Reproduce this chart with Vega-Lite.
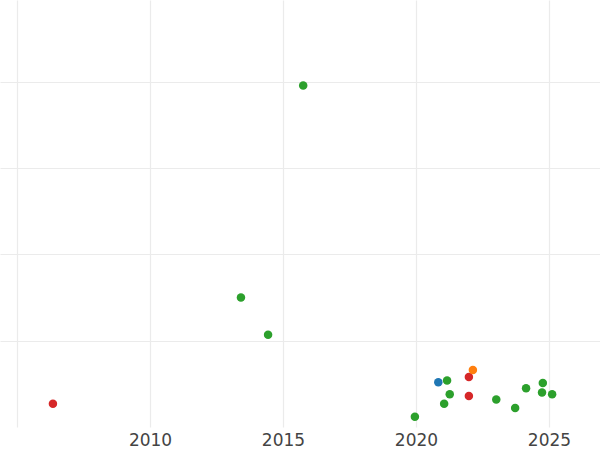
{
  "$schema": "https://vega.github.io/schema/vega-lite/v6.json",
  "width": 600,
  "height": 427,
  "autosize": {"type": "none"},
  "padding": {"left": 0, "top": 0, "right": 0, "bottom": 23},
  "background": "white",
  "config": {"view": {"stroke": null}},
  "data": {"values": [
    {"year": 2006.35, "value": 0.27, "group": "D1"},
    {"year": 2015.76, "value": 3.96, "group": "A"},
    {"year": 2013.42, "value": 1.50, "group": "A"},
    {"year": 2014.44, "value": 1.07, "group": "A"},
    {"year": 2019.96, "value": 0.12, "group": "A"},
    {"year": 2020.84, "value": 0.52, "group": "C"},
    {"year": 2021.17, "value": 0.54, "group": "A"},
    {"year": 2021.27, "value": 0.38, "group": "A"},
    {"year": 2021.06, "value": 0.27, "group": "A"},
    {"year": 2021.99, "value": 0.58, "group": "D1"},
    {"year": 2022.14, "value": 0.66, "group": "B"},
    {"year": 2021.99, "value": 0.36, "group": "D1"},
    {"year": 2023.02, "value": 0.32, "group": "A"},
    {"year": 2023.73, "value": 0.22, "group": "A"},
    {"year": 2024.14, "value": 0.45, "group": "A"},
    {"year": 2024.77, "value": 0.51, "group": "A"},
    {"year": 2024.74, "value": 0.40, "group": "A"},
    {"year": 2025.12, "value": 0.38, "group": "A"}
  ]},
  "mark": {"type": "circle", "size": 72, "opacity": 1},
  "encoding": {
    "x": {
      "field": "year", "type": "quantitative",
      "scale": {"domain": [2004.36, 2026.92], "nice": false, "zero": false},
      "axis": {
        "title": null, "values": [2005, 2010, 2015, 2020, 2025], "format": "d",
        "labelExpr": "datum.value == 2005 ? '' : datum.label",
        "domain": false, "ticks": false, "labelPadding": 5,
        "labelFont": "DejaVu Sans", "labelFontSize": 17, "labelColor": "#444444",
        "grid": true, "gridColor": "#ebebeb", "gridWidth": 1.2
      }
    },
    "y": {
      "field": "value", "type": "quantitative",
      "scale": {"domain": [0, 4.95], "nice": false, "zero": false},
      "axis": {
        "title": null, "values": [1, 2, 3, 4], "labels": false,
        "domain": false, "ticks": false,
        "grid": true, "gridColor": "#ebebeb", "gridWidth": 1.2
      }
    },
    "color": {
      "field": "group", "type": "nominal",
      "scale": {"domain": ["A", "B", "C", "D1"], "range": ["#2ca02c", "#ff7f0e", "#1f77b4", "#d62728"]},
      "legend": null
    }
  }
}
